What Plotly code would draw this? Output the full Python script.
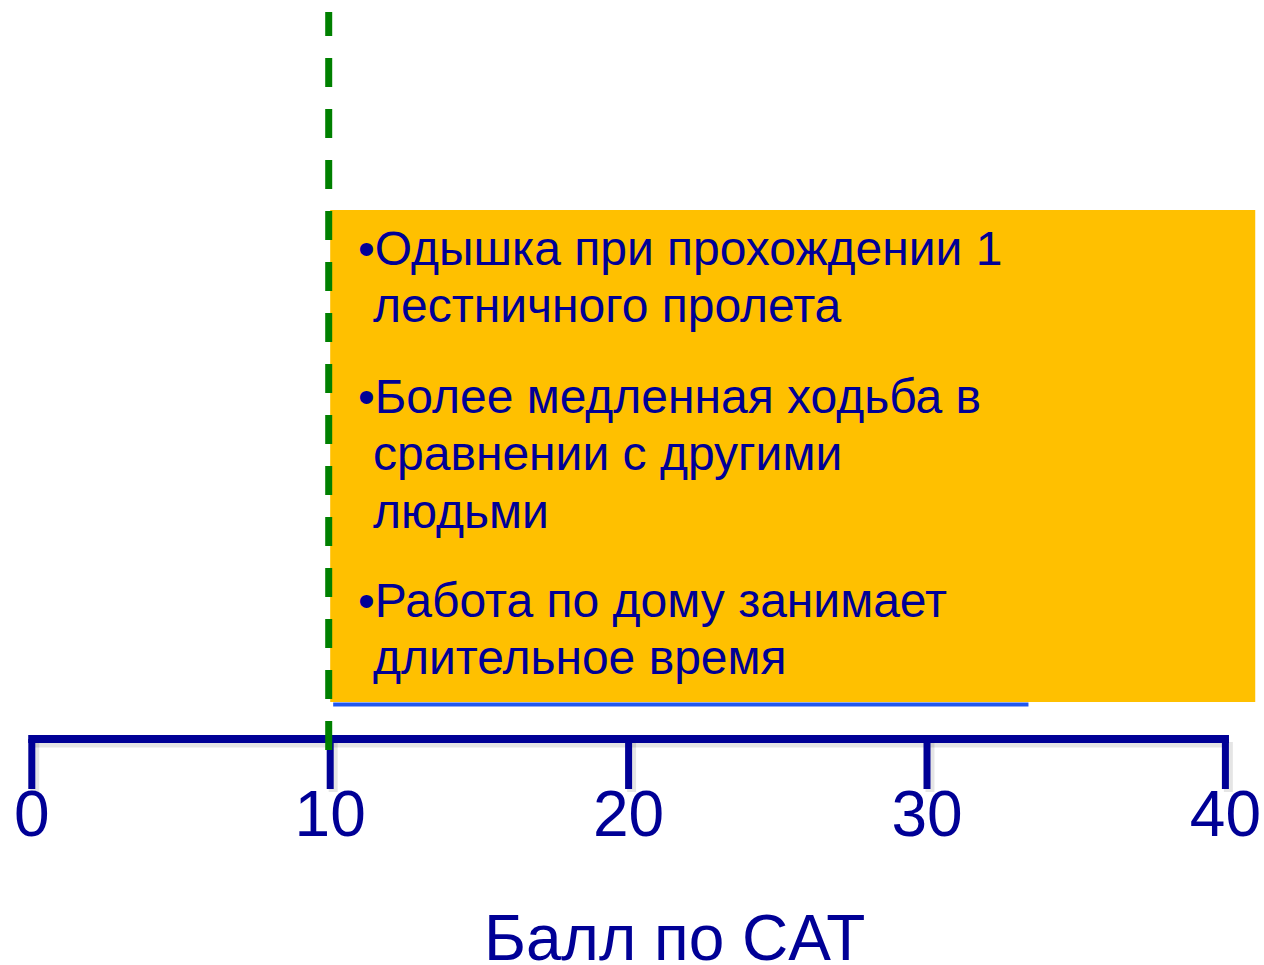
import plotly.graph_objects as go

# Scale of the CAT score and its labelled ticks
tick_values = [0, 10, 20, 30, 40]
tick_labels = ["0", "10", "20", "30", "40"]
axis_title = "Балл по CAT"

# Threshold score and the band of scores it opens
threshold = 10
band_end = 41.0
underline_end = 33.4

# Bullet points shown inside the band
bullets = [
    ["•Одышка при прохождении 1", "лестничного пролета"],
    ["•Более медленная ходьба в", "сравнении с другими", "людьми"],
    ["•Работа по дому занимает", "длительное время"],
]

NAVY = "#000096"
W, H = 1264, 965
PX_PER_UNIT = 29.84
X0 = -31.8 / PX_PER_UNIT
X1 = X0 + W / PX_PER_UNIT

AXIS_Y = 739
TICK_BOTTOM = 789

fig = go.Figure()

# Orange band for scores above the threshold
fig.add_shape(type="rect", xref="x", yref="y",
              x0=threshold, x1=band_end, y0=210, y1=702,
              fillcolor="#FFC000", line_width=0, layer="below")

# Thin blue underline beneath the band
fig.add_trace(go.Scatter(x=[threshold + 0.1, underline_end], y=[704.5, 704.5],
                         mode="lines", line=dict(color="#2058F0", width=4),
                         hoverinfo="skip", showlegend=False))

# Soft shadow of the scale
shadow_x, shadow_y = [], []
for v in tick_values:
    shadow_x += [v + 0.1, v + 0.1, None]
    shadow_y += [AXIS_Y + 3, TICK_BOTTOM + 3, None]
shadow_x += [tick_values[0] + 0.1, tick_values[-1] + 0.1]
shadow_y += [AXIS_Y + 4, AXIS_Y + 4]
fig.add_trace(go.Scatter(x=shadow_x, y=shadow_y, mode="lines",
                         line=dict(color="rgba(0,0,0,0.10)", width=9),
                         hoverinfo="skip", showlegend=False))

# Scale line with tick marks
ax_x, ax_y = [], []
for v in tick_values:
    ax_x += [v, v, None]
    ax_y += [AXIS_Y, TICK_BOTTOM, None]
fig.add_trace(go.Scatter(x=ax_x, y=ax_y, mode="lines",
                         line=dict(color=NAVY, width=7),
                         hoverinfo="skip", showlegend=False))
fig.add_trace(go.Scatter(x=[tick_values[0] - 0.12, tick_values[-1] + 0.12],
                         y=[AXIS_Y, AXIS_Y], mode="lines",
                         line=dict(color=NAVY, width=8),
                         hoverinfo="skip", showlegend=False))

# Dashed threshold marker
fig.add_trace(go.Scatter(x=[threshold - 0.05, threshold - 0.05], y=[750, 12],
                         mode="lines",
                         line=dict(color="#008000", width=7, dash="29px,22px"),
                         hoverinfo="skip", showlegend=False))

# Tick labels
fig.add_trace(go.Scatter(x=tick_values, y=[820] * len(tick_values),
                         mode="text", text=tick_labels,
                         textfont=dict(family="Liberation Sans", size=64, color=NAVY),
                         cliponaxis=False, hoverinfo="skip", showlegend=False))

# Axis title
fig.add_annotation(x=X0 + 674.5 / PX_PER_UNIT, y=938, xref="x", yref="y",
                   text=axis_title, showarrow=False,
                   xanchor="center", yanchor="middle",
                   font=dict(family="Liberation Sans", size=64, color=NAVY))

# Bullet text inside the band
para_tops = [248, 396, 600]
line_gap = 57.5
for top, lines in zip(para_tops, bullets):
    for i, line in enumerate(lines):
        px = 356 if i == 0 else 371
        fig.add_annotation(x=X0 + px / PX_PER_UNIT, y=top + i * line_gap,
                           xref="x", yref="y", text=line, showarrow=False,
                           xanchor="left", yanchor="middle",
                           font=dict(family="Liberation Sans", size=48, color=NAVY))

fig.update_layout(
    width=W, height=H,
    margin=dict(l=0, r=0, t=0, b=0),
    paper_bgcolor="white", plot_bgcolor="white",
    xaxis=dict(range=[X0, X1], visible=False, fixedrange=True),
    yaxis=dict(range=[H, 0], visible=False, fixedrange=True),
    showlegend=False,
)

fig.write_html("out.html")
